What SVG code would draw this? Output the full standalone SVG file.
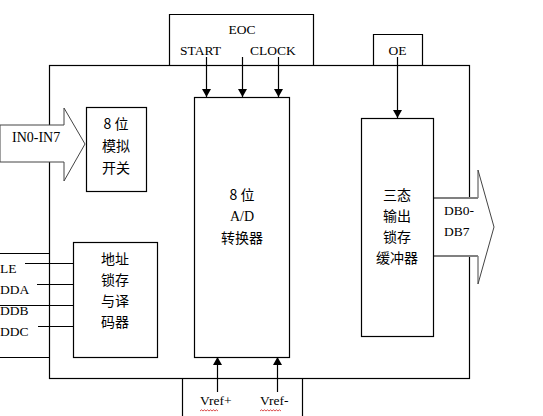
<svg xmlns="http://www.w3.org/2000/svg" width="543" height="416" viewBox="0 0 543 416">
<style>
.ln{stroke:#000;stroke-width:1.2;fill:none}
.bx{stroke:#000;stroke-width:1.2;fill:#fff}
.lat{font-family:"Liberation Serif","Times New Roman",serif;font-size:13.5px;fill:#000}
.cjk{font-family:"Noto Sans CJK SC","Noto Sans CJK JP",sans-serif;font-size:14px;fill:#000;text-anchor:middle}
.mid{text-anchor:middle}
.fat{fill:#fff;stroke:#444;stroke-width:1}
.wav{fill:none;stroke:#d02020;stroke-width:0.8}
</style>
<defs>
<marker id="ah" viewBox="0 0 8 9" refX="8" refY="4.5" markerWidth="8" markerHeight="9" markerUnits="userSpaceOnUse" orient="auto">
<path d="M0,0 L8,4.5 L0,9 Z" fill="#000"/>
</marker>
</defs>

<g id="frame">
<rect x="49.5" y="65.5" width="420" height="313" class="ln"/>
<polyline points="169.5,65.5 169.5,14.5 313.5,14.5 313.5,65.5" class="ln"/>
<polyline points="373.5,65.5 373.5,34.5 422.5,34.5 422.5,65.5" class="ln"/>
<line x1="182.5" y1="378.5" x2="182.5" y2="416" class="ln"/>
<line x1="302.5" y1="378.5" x2="302.5" y2="416" class="ln"/>
<line x1="0" y1="253.5" x2="49.5" y2="253.5" class="ln"/>
<line x1="0" y1="357.5" x2="49.5" y2="357.5" class="ln"/>
<text x="242" y="34" class="lat mid">EOC</text>
<text x="200.5" y="55" class="lat mid">START</text>
<text x="273" y="55" class="lat mid">CLOCK</text>
<text x="397.5" y="55" class="lat mid">OE</text>
<text x="200" y="405" class="lat">Vref+</text>
<text x="260" y="405" class="lat">Vref-</text>
<path class="wav" d="M200,411 l1.5,-1.2 l1.5,1.2 l1.5,-1.2 l1.5,1.2 l1.5,-1.2 l1.5,1.2 l1.5,-1.2 l1.5,1.2 l1.5,-1.2 l1.5,1.2 l1.5,-1.2 l1.5,1.2"/>
<path class="wav" d="M260,411 l1.5,-1.2 l1.5,1.2 l1.5,-1.2 l1.5,1.2 l1.5,-1.2 l1.5,1.2 l1.5,-1.2 l1.5,1.2 l1.5,-1.2 l1.5,1.2 l1.5,-1.2 l1.5,1.2 l1.5,-1.2 l1.5,1.2"/>
<text x="0" y="273" class="lat">LE</text>
<text x="0" y="294" class="lat">DDA</text>
<text x="0" y="315" class="lat">DDB</text>
<text x="0" y="336" class="lat">DDC</text>
</g>

<g id="connectors">
<line x1="206.5" y1="57" x2="206.5" y2="97" class="ln" marker-end="url(#ah)"/>
<line x1="242.5" y1="57" x2="242.5" y2="97" class="ln" marker-end="url(#ah)"/>
<line x1="278.5" y1="57" x2="278.5" y2="97" class="ln" marker-end="url(#ah)"/>
<line x1="397.5" y1="57" x2="397.5" y2="118" class="ln" marker-end="url(#ah)"/>
<line x1="217.5" y1="392" x2="217.5" y2="357" class="ln" marker-end="url(#ah)"/>
<line x1="277.5" y1="392" x2="277.5" y2="357" class="ln" marker-end="url(#ah)"/>
<line x1="25" y1="263.5" x2="73.5" y2="263.5" class="ln"/>
<line x1="37" y1="284.5" x2="73.5" y2="284.5" class="ln"/>
<line x1="0" y1="305.5" x2="73.5" y2="305.5" class="ln"/>
<line x1="38" y1="326.5" x2="73.5" y2="326.5" class="ln"/>
</g>

<g id="in-arrow">
<polygon points="0,125 64,125 64,108 85,144 64,181 64,162 0,162" class="fat"/>
<text x="12" y="142" class="lat" style="font-size:14px">IN0-IN7</text>
</g>

<g id="out-arrow">
<polygon points="433,198 478,198 478,170 494,227 478,284 478,256 433,256" class="fat"/>
<line x1="433" y1="198" x2="478" y2="198" stroke="#808080" stroke-width="2"/>
<line x1="433" y1="256" x2="478" y2="256" stroke="#808080" stroke-width="2"/>
<text x="444" y="215" class="lat">DB0-</text>
<text x="444" y="236" class="lat">DB7</text>
</g>

<g id="mux">
<rect x="86.5" y="107.5" width="60" height="84" class="bx"/>
<text x="116" y="129" class="cjk">8 位</text>
<text x="116" y="151" class="cjk">模拟</text>
<text x="116" y="173" class="cjk">开关</text>
</g>

<g id="addr">
<rect x="73.5" y="242.5" width="84" height="115" class="bx"/>
<text x="115" y="264" class="cjk">地址</text>
<text x="115" y="285" class="cjk">锁存</text>
<text x="115" y="306" class="cjk">与译</text>
<text x="115" y="327" class="cjk">码器</text>
</g>

<g id="adc">
<rect x="194.5" y="97.5" width="95" height="260" class="bx"/>
<text x="242" y="200" class="cjk">8 位</text>
<text x="242" y="221" class="lat mid" style="font-size:14px">A/D</text>
<text x="242" y="243" class="cjk">转换器</text>
</g>

<g id="latch">
<rect x="361.5" y="118.5" width="72" height="218" class="bx"/>
<text x="397" y="200" class="cjk">三态</text>
<text x="397" y="221" class="cjk">输出</text>
<text x="397" y="242" class="cjk">锁存</text>
<text x="397" y="263" class="cjk">缓冲器</text>
</g>
</svg>
